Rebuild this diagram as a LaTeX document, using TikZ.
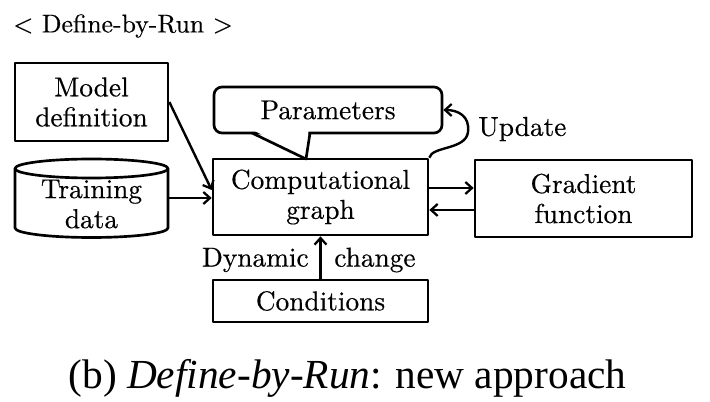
\documentclass[tikz,border=0pt]{standalone}
\usepackage{fontspec}
\newfontfamily\capfont{Liberation Serif}
\newfontfamily\diag{lmroman10-regular}[Extension=.otf, FakeBold=0.4]
\usetikzlibrary{arrows.meta}
\begin{document}
\begin{tikzpicture}[x=0.75pt,y=-0.75pt,line width=2pt,line join=round,
  txt/.style={font=\diag\fontsize{20.5}{22.5}\selectfont, inner sep=0pt, align=center},
  box/.style={txt, draw, line width=2pt},
  arr/.style={-{Straight Barb[length=5pt,width=9pt,line width=1.7pt]}, line width=1.8pt}]
\useasboundingbox (0,0) rectangle (710,402);
\node[txt, anchor=west, font=\diag\fontsize{19.3}{22}\selectfont] (title) at (12,26) {< Define-by-Run >};
\node[box, minimum width=114.75pt, minimum height=58.5pt] (model) at (91.5,102) {Model\\definition};
% cylinder
\draw (15,168.5) -- (15,228) arc[start angle=180,end angle=0,x radius=76.5,y radius=9.5] -- (168,168.5);
\draw (91.5,168.5) ellipse[x radius=76.5, y radius=9.5];
\node[minimum width=114.75pt, minimum height=58.5pt, inner sep=0pt] (train) at (91.5,198) {};
\node[txt] (traintext) at (91.5,204) {Training\\data};
\node[box, minimum width=161.25pt, minimum height=57pt] (comp) at (320.5,197) {Computational\\graph};
\node[box, minimum width=162.75pt, minimum height=57.75pt] (grad) at (583.5,198.5) {Gradient\\function};
\node[box, minimum width=161.25pt, minimum height=31.5pt] (cond) at (320.5,301) {Conditions};
\node[box, rounded corners=6pt, minimum width=171pt, minimum height=34.5pt, fill=white] (params) at (328,110) {Parameters};
\coordinate (tailL) at (252,133);
\coordinate (tailR) at (310,133);
\coordinate (tip) at (306,159);
\fill[white] (255,131.2) -- (306,157) -- (308.5,131.2) -- cycle;
\draw (tailL) -- (tip) -- (tailR);
% connectors
\draw[arr] (model.east) -- ([yshift=5.25pt]comp.west);
\draw[arr] (train.east) -- (train.east -| comp.west);
\draw[arr] ([yshift=6.75pt]comp.east) -- ([yshift=6.75pt]comp.east -| grad.west);
\draw[arr] ([yshift=-8.6pt]grad.west) -- ([yshift=-8.6pt]grad.west -| comp.east);
\draw[arr] (cond.north) -- (comp.south);
\draw[arr] (comp.north east) .. controls (432,146) and (466,150) .. (468,132) .. controls (470,116) and (458,110) .. (params.east);
% labels
\node[txt, anchor=west] (upd) at (477,129) {Update};
\node[txt, anchor=east] (dyn) at (310,260) {Dynamic};
\node[txt, anchor=west] (chg) at (333,260) {change};
\node[inner sep=0pt, anchor=base, font=\capfont\fontsize{31}{36}\selectfont] (cap) at (347.5,388) {(b) \textit{Define-by-Run}: new approach};
\end{tikzpicture}
\end{document}
